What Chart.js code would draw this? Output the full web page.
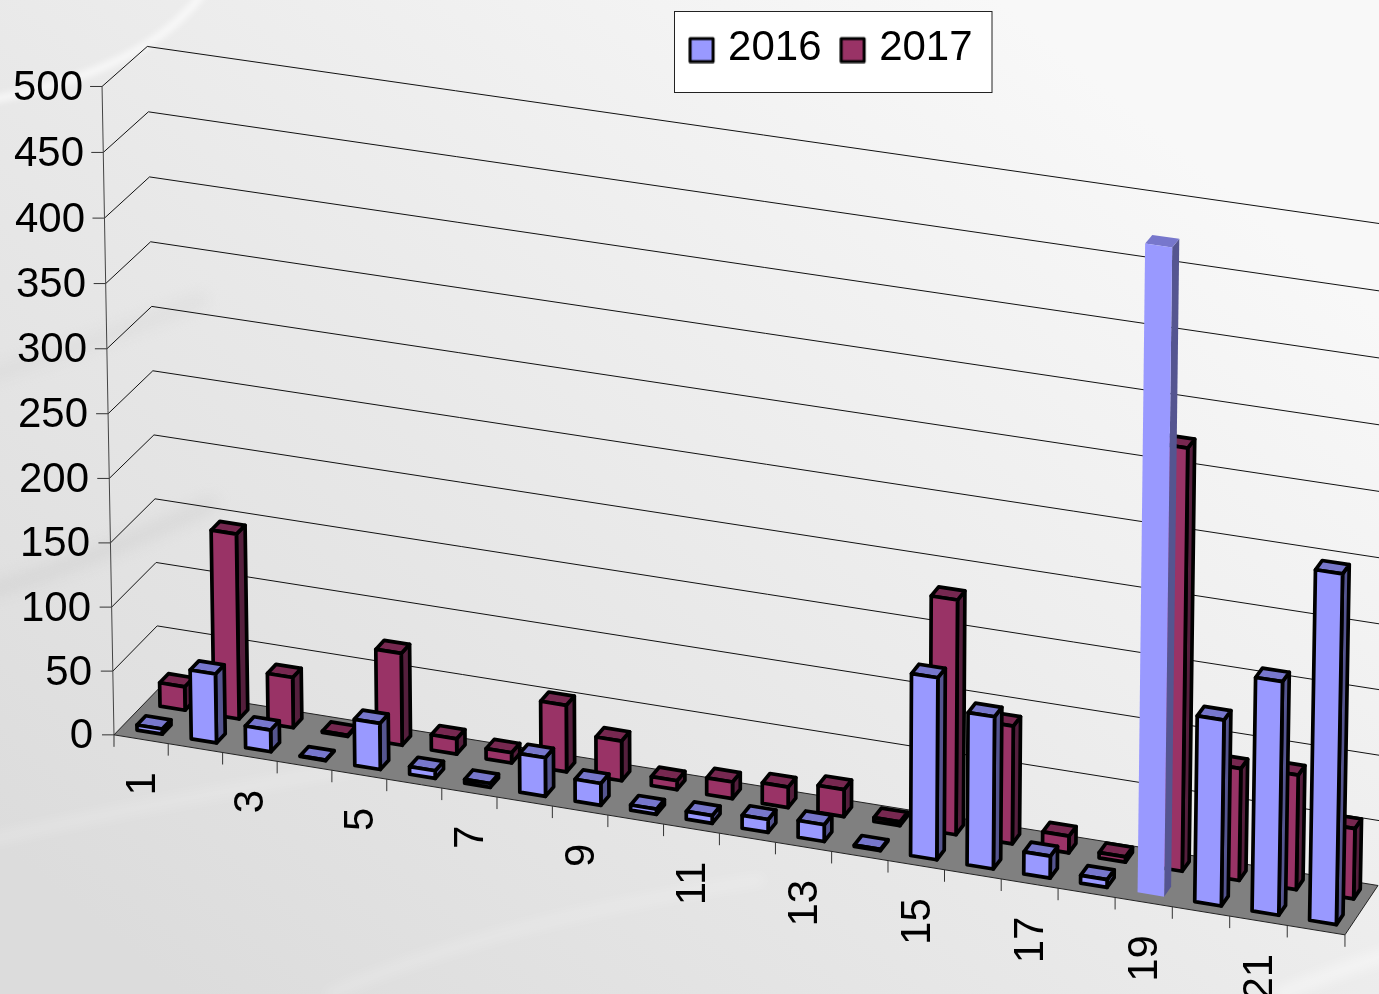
<!DOCTYPE html>
<html><head><meta charset="utf-8">
<style>html,body{margin:0;padding:0;background:#eee;overflow:hidden}canvas{display:block}</style>
<script src="https://cdn.jsdelivr.net/npm/chart.js@4"></script>
</head><body><canvas id="c" width="1379" height="994"></canvas>
<script>
const categories = ['1','2','3','4','5','6','7','8','9','10','11','12','13','14','15','16','17','18','19','20','21','22'];
const series2016 = [4,54,17,0.5,36,6,3,30,17,4,6,10,13,1,140,117,17,6,490,142,178,266];
const series2017 = [18.5,145,39.5,1,72,12,8,52,31,7,13,16,21,3,181,91,13,4,323,86,88,54];
const seriesNames = ['2016','2017'];
const valueMax = 500, valueStep = 50;

// Camera of the 3-D view: model corner (X,Y,Z in 0..1) -> where it lands on the page.
const cameraFit = [
 [0,0,0,114,735],[0,1,0,102,88],[0,.9,0,103,153],[0,.3,0,110,544],
 [.5,0,0,721,833],[1,0,0,1344,935],[1,1,0,1357,265],
 [0,0,1,157,688],[0,1,1,147,46],[0,.9,1,149,111],[0,.3,1,156,498],
 [1,0,1,1378,885],[1,1,1,1390,227],[1,.3,1,1382,692]
];
function solveCamera(pts){
  const n=11, A=Array.from({length:n},()=>new Array(n+1).fill(0));
  const add=(r,b)=>{for(let i=0;i<n;i++){for(let j=0;j<n;j++)A[i][j]+=r[i]*r[j];A[i][n]+=r[i]*b;}};
  pts.forEach(([X,Y,Z,u,v])=>{u/=1000;v/=1000;
    add([X,Y,Z,1,0,0,0,0,-u*X,-u*Y,-u*Z],u);
    add([0,0,0,0,X,Y,Z,1,-v*X,-v*Y,-v*Z],v);});
  for(let c=0;c<n;c++){let p=c;for(let r=c+1;r<n;r++)if(Math.abs(A[r][c])>Math.abs(A[p][c]))p=r;
    [A[c],A[p]]=[A[p],A[c]];
    for(let r=0;r<n;r++){if(r===c)continue;const f=A[r][c]/A[c][c];for(let k=c;k<=n;k++)A[r][k]-=f*A[c][k];}}
  return A.map((row,i)=>row[n]/row[i]);
}
const P=solveCamera(cameraFit);
function proj(X,Y,Z){const w=P[8]*X+P[9]*Y+P[10]*Z+1;
  return [1000*(P[0]*X+P[1]*Y+P[2]*Z+P[3])/w,1000*(P[4]*X+P[5]*Y+P[6]*Z+P[7])/w];}

const shades = [
 {front:'#9999ff',top:'#7777cc',side:'#555590'},
 {front:'#993366',top:'#772850',side:'#551f3d'}];
const depthBands = [[.16,.36],[.68,.88]];
const barNudge = .0012;
const unstroked = {dataset:0,index:18};

function symbol(fill){const c=document.createElement('canvas');c.width=30;c.height=30;const g=c.getContext('2d');
  g.fillStyle=fill;g.strokeStyle='#000';g.lineWidth=3;g.lineJoin='round';g.beginPath();g.rect(2,5,23,23);g.fill();g.stroke();return c;}
const symbols=shades.map(s=>symbol(s.front));

function poly(ctx,pts,fill,stroke,lw){ctx.beginPath();pts.forEach((p,i)=>i?ctx.lineTo(p[0],p[1]):ctx.moveTo(p[0],p[1]));ctx.closePath();
  if(fill){ctx.fillStyle=fill;ctx.fill();}
  if(stroke){ctx.strokeStyle=stroke;ctx.lineWidth=lw;ctx.lineJoin='round';ctx.stroke();}}
function seg(ctx,a,b,col,lw){ctx.beginPath();ctx.moveTo(a[0],a[1]);ctx.lineTo(b[0],b[1]);ctx.strokeStyle=col;ctx.lineWidth=lw;ctx.stroke();}

function streak(ctx,x0,y0,cx,cy,x1,y1,w,col,blur){ctx.save();ctx.filter='blur('+blur+'px)';ctx.strokeStyle=col;ctx.lineWidth=w;ctx.lineCap='round';
  ctx.beginPath();ctx.moveTo(x0,y0);ctx.quadraticCurveTo(cx,cy,x1,y1);ctx.stroke();ctx.restore();}

const scene={id:'scene',
 beforeDraw(chart){
  const ctx=chart.ctx,W=chart.width,H=chart.height;
  const g=ctx.createLinearGradient(180,H,1000,0);
  g.addColorStop(0,'#dcdcdc');g.addColorStop(.45,'#e8e8e8');g.addColorStop(1,'#f8f8f8');
  ctx.fillStyle=g;ctx.fillRect(0,0,W,H);
  streak(ctx,205,-10,150,70,-10,100,8,'rgba(255,255,255,.65)',3);
  streak(ctx,-10,375,90,345,200,300,14,'rgba(205,205,205,.25)',7);
  streak(ctx,-10,590,70,570,210,505,16,'rgba(195,195,195,.3)',7);
  streak(ctx,-10,840,160,800,460,750,12,'rgba(255,255,255,.18)',6);
  streak(ctx,330,994,500,920,760,880,11,'rgba(255,255,255,.2)',6);
  streak(ctx,1280,994,1340,970,1400,950,14,'rgba(255,255,255,.4)',6);
  ctx.fillStyle='#fff';ctx.fillRect(674.5,11.5,317.5,81);
  ctx.strokeStyle='#222';ctx.lineWidth=1;ctx.strokeRect(674.5,11.5,317.5,81);

  const xs=chart.scales.x,ys=chart.scales.y;
  xs.getLabelItems(chart.chartArea).forEach((it,i)=>{
    const p=proj((xs.getPixelForValue(i)-xs.left)/xs.width,0,0);
    Object.assign(it.options,{translation:[p[0]+2,p[1]+33],rotation:-Math.PI/2,textAlign:'right',textBaseline:'middle'});
    it.textOffset=0;});
  ys.getLabelItems(chart.chartArea).forEach((it,i)=>{
    const Y=(ys.bottom-ys.getPixelForValue(ys.ticks[i].value))/ys.height;
    const p=proj(0,Y,0);
    Object.assign(it.options,{translation:[p[0]-21+2*Y,p[1]+2],rotation:0,textAlign:'right',textBaseline:'middle'});
    it.textOffset=0;});
 },
 beforeDatasetsDraw(chart){
  const ctx=chart.ctx,xs=chart.scales.x,ys=chart.scales.y;
  ctx.save();
  const line='#111';
  ys.ticks.forEach(t=>{const Y=(ys.bottom-ys.getPixelForValue(t.value))/ys.height;
    if(t.value>0){const a=proj(0,Y,0),b=proj(0,Y,1),c=proj(1,Y,1);seg(ctx,a,b,line,1);seg(ctx,b,c,line,1);}
    const a=proj(0,Y,0);seg(ctx,[a[0]-12,a[1]],a,'#333',1);});
  seg(ctx,proj(0,0,0),proj(0,1,0),'#444',1);
  poly(ctx,[proj(0,0,0),proj(1,0,0),proj(1,0,1),proj(0,0,1)],'#808080','#222',1);
  for(let k=0;k<=categories.length;k++){const a=proj(k/categories.length,0,0);seg(ctx,a,[a[0],a[1]+12],'#333',1);}
  for(let d=chart.data.datasets.length-1;d>=0;d--){
    const meta=chart.getDatasetMeta(d),[z0,z1]=depthBands[d],s=shades[d];
    meta.data.forEach((el,i)=>{
      const x0=(el.x-el.width/2-xs.left)/xs.width+barNudge,x1=(el.x+el.width/2-xs.left)/xs.width+barNudge,
            y=(ys.bottom-el.y)/ys.height;
      const stroke=(d===unstroked.dataset&&i===unstroked.index)?null:'#000',lw=3.7;
      const fbl=proj(x0,0,z0),fbr=proj(x1,0,z0),ftl=proj(x0,y,z0),ftr=proj(x1,y,z0),
            bbr=proj(x1,0,z1),btl=proj(x0,y,z1),btr=proj(x1,y,z1);
      poly(ctx,[fbr,bbr,btr,ftr],s.side,stroke,lw);
      poly(ctx,[ftl,ftr,btr,btl],s.top,stroke,lw);
      poly(ctx,[fbl,fbr,ftr,ftl],s.front,stroke,lw);
    });
  }
  ctx.restore();
 },
 beforeDatasetDraw(){return false;},
 afterLayout(chart){const l=chart.legend;const w=l.right-l.left;l.left=670.5;l.right=670.5+w;l.top=-1;l.bottom=-1+l.height;}
};

const tickFont={family:'"Liberation Sans",Arial,sans-serif',size:42};
new Chart(document.getElementById('c'),{
 type:'bar',
 data:{labels:categories,datasets:[
   {label:seriesNames[0],data:series2016,backgroundColor:shades[0].front,borderColor:'#000',borderWidth:3.7},
   {label:seriesNames[1],data:series2017,backgroundColor:shades[1].front,borderColor:'#000',borderWidth:3.7}]},
 plugins:[scene],
 options:{responsive:false,animation:false,events:[],
  grouped:false,barPercentage:.465,categoryPercentage:1,
  layout:{padding:0},
  plugins:{tooltip:{enabled:false},
   legend:{display:true,position:'top',align:'start',
    labels:{color:'#000',font:tickFont,boxWidth:8,boxHeight:8,padding:28.6,usePointStyle:true,
     generateLabels(chart){return Chart.defaults.plugins.legend.labels.generateLabels(chart).map((l,i)=>Object.assign(l,{pointStyle:symbols[i]}));}}}},
  scales:{
   x:{type:'category',offset:true,grid:{display:false},border:{display:false},
      afterFit(s){s.height=250;},
      ticks:{color:'#000',font:tickFont,autoSkip:false,minRotation:90,maxRotation:90,
        callback(v,i){return i%2===0?this.getLabelForValue(v):'';}}},
   y:{type:'linear',min:0,max:valueMax,grid:{display:false},border:{display:false},
      afterFit(s){s.width=115;},
      ticks:{color:'#000',font:tickFont,stepSize:valueStep}}
  }}
});
</script></body></html>
